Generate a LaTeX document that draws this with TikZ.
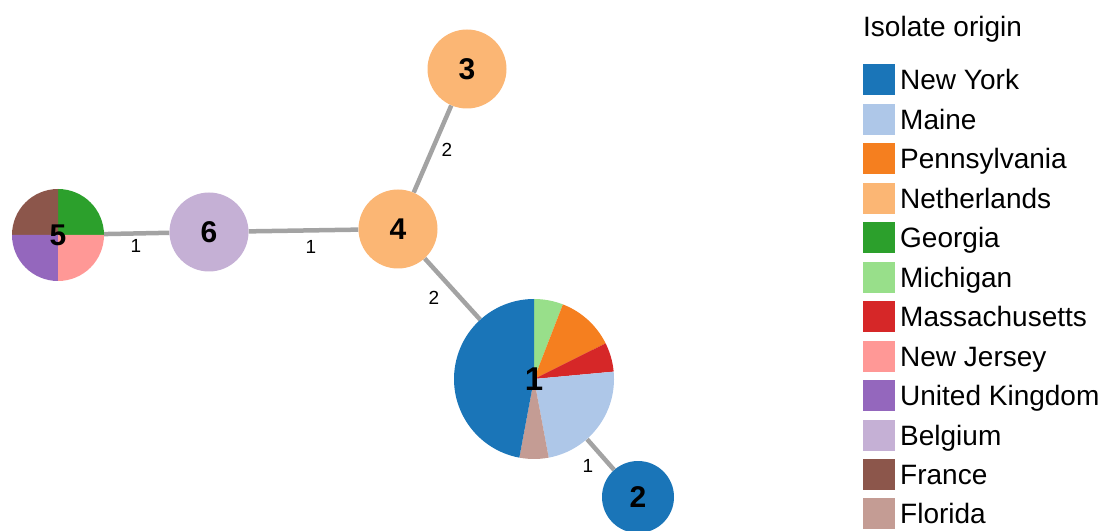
\documentclass[tikz,border=0pt]{standalone}
\usepackage{fontspec}
\setmainfont{Liberation Sans}
\usetikzlibrary{backgrounds}
\definecolor{cNY}{HTML}{1A75B8}
\definecolor{cME}{HTML}{AEC7E8}
\definecolor{cPA}{HTML}{F57F1F}
\definecolor{cNL}{HTML}{FBB674}
\definecolor{cGA}{HTML}{2CA02C}
\definecolor{cMI}{HTML}{98DF8A}
\definecolor{cMA}{HTML}{D62728}
\definecolor{cNJ}{HTML}{FF9896}
\definecolor{cUK}{HTML}{9467BD}
\definecolor{cBE}{HTML}{C5B0D5}
\definecolor{cFR}{HTML}{8C564B}
\definecolor{cFL}{HTML}{C49C94}
\definecolor{linkgray}{HTML}{A3A3A3}
\begin{document}
\begin{tikzpicture}[x=1pt,y=1pt,
  hub/.style={circle, inner sep=0pt, font=\fontsize{30}{30}\selectfont\bfseries},
  link/.style={draw=linkgray, line width=4.5pt},
  elab/.style={font=\fontsize{19}{19}\selectfont, inner sep=0pt},
  swatch/.style={minimum width=32pt, minimum height=31pt, inner sep=0pt},
  ltext/.style={anchor=base west, inner sep=0pt, font=\fontsize{28}{28}\selectfont}]
\useasboundingbox (0,0) rectangle (1107,530);
% nodes
\node[hub, minimum size=79pt, fill=cNL] (n3) at (467,461) {3};
\node[hub, minimum size=79pt, fill=cNL] (n4) at (398,301) {4};
\node[hub, minimum size=79pt, fill=cBE] (n6) at (209,298) {6};
\node[hub, minimum size=92pt] (n5) at (58,295) {5};
\node[hub, minimum size=160pt, font=\fontsize{33}{33}\selectfont\bfseries] (n1) at (534,151) {1};
\node[hub, minimum size=72pt, fill=cNY] (n2) at (638,33) {2};
\begin{pgfonlayer}{background}
\draw[link] (n5) -- (n6);
\draw[link] (n6) -- (n4);
\draw[link] (n4) -- (n3);
\draw[link] (n4) -- (n1);
\draw[link] (n1) -- (n2);
% pie 5
\foreach \a/\b/\c in {0/90/cGA, 90/180/cFR, 180/270/cUK, 270/360/cNJ}
  \fill[\c] (n5.center) -- ++(\a:46) arc[start angle=\a, end angle=\b, radius=46] -- cycle;
% pie 1
\foreach \a/\b/\c in {90/68.82/cMI, 68.82/26.47/cPA, 26.47/5.29/cMA, 5.29/-79.41/cME, -79.41/-100.59/cFL, -100.59/-270/cNY}
  \fill[\c] (n1.center) -- ++(\a:80) arc[start angle=\a, end angle=\b, radius=80] -- cycle;
\end{pgfonlayer}
% edge labels
\node[elab] (e34) at (447,380) {2};
\node[elab] (e41) at (434,232) {2};
\node[elab] (e56) at (136,284) {1};
\node[elab] (e64) at (311,283) {1};
\node[elab] (e12) at (588,64) {1};
% legend
\node[ltext] (ltitle) at (863,493) {Isolate origin};
\foreach \c/\t [count=\i from 0] in {cNY/New York, cME/Maine, cPA/Pennsylvania, cNL/Netherlands, cGA/Georgia, cMI/Michigan, cMA/Massachusetts, cNJ/New Jersey, cUK/United Kingdom, cBE/Belgium, cFR/France, cFL/Florida}{
  \node[swatch, fill=\c] (sw\i) at (879,{450-39.45*\i}) {};
  \node[ltext] (lt\i) at (900,{440-39.45*\i}) {\t};
}
\end{tikzpicture}
\end{document}
